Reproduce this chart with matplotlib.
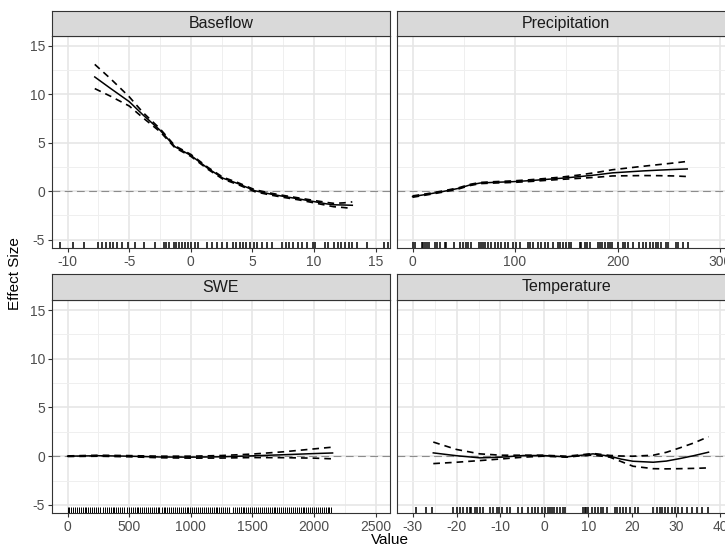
import numpy as np
import matplotlib
matplotlib.use("Agg")
import matplotlib.pyplot as plt
import matplotlib.transforms as mtransforms

plt.rcParams["font.family"] = ["Liberation Sans", "DejaVu Sans"]
plt.rcParams["axes.unicode_minus"] = False

# --------------------------------------------------
# Data
# --------------------------------------------------

panel_names = ["Baseflow", "Precipitation", "SWE", "Temperature"]

baseflow_x = [-7.8, -6.5, -5.0, -3.9, -2.5, -1.3, 0.0, 1.4, 2.6, 3.8, 5.2, 6.5, 7.6, 8.8, 10.0, 11.0, 11.6, 12.4, 13.1]
baseflow_fit = [11.8, 10.6, 9.25, 7.9, 6.3, 4.6, 3.7, 2.35, 1.35, 0.8, 0.05, -0.3, -0.55, -0.8, -1.07, -1.3, -1.4, -1.42, -1.45]
baseflow_hi = [13.1, 11.6, 9.75, 8.15, 6.45, 4.7, 3.8, 2.45, 1.45, 0.9, 0.15, -0.2, -0.45, -0.7, -0.95, -1.15, -1.25, -1.2, -1.1]
baseflow_lo = [10.6, 9.8, 8.8, 7.6, 6.15, 4.5, 3.6, 2.25, 1.25, 0.7, -0.05, -0.4, -0.65, -0.9, -1.2, -1.45, -1.6, -1.68, -1.78]
baseflow_rug = [-10.6, -9.6, -8.7, -7.5, -7.2, -6.9, -6.6, -6.3, -6.0, -5.6, -5.1, -4.5, -3.8,
                -2.9, -2.2, -2.0, -1.8, -1.4, -1.2, -1.0, -0.75, -0.5, -0.2, 0.0, 0.3, 0.6,
                1.3, 1.7, 2.1, 2.5, 2.9, 3.4, 3.7, 3.95, 4.25, 4.5, 4.8, 5.1, 5.4, 5.75,
                6.2, 6.6, 7.4, 7.7, 8.0, 8.3, 8.7, 9.0, 9.4, 9.9, 10.1, 10.9, 11.1, 11.6,
                11.9, 12.2, 12.5, 12.8, 13.1, 13.5, 14.3, 15.7, 16.0]

precip_x = [0, 15, 30, 45, 56, 66, 80, 98, 115, 130, 146, 162, 180, 195, 210, 225, 240, 255, 268]
precip_fit = [-0.55, -0.3, -0.02, 0.3, 0.65, 0.85, 0.92, 0.99, 1.1, 1.22, 1.35, 1.5, 1.7, 1.9, 2.0, 2.1, 2.18, 2.25, 2.3]
precip_hi = [-0.48, -0.24, 0.04, 0.36, 0.71, 0.91, 0.99, 1.07, 1.19, 1.32, 1.47, 1.67, 1.95, 2.22, 2.4, 2.58, 2.75, 2.92, 3.08]
precip_lo = [-0.62, -0.36, -0.08, 0.24, 0.59, 0.79, 0.85, 0.91, 1.01, 1.12, 1.23, 1.33, 1.45, 1.58, 1.6, 1.62, 1.61, 1.58, 1.52]
precip_rug = [0, 2.3, 8.8, 10.4, 12.1, 13.7, 16.3, 21.8, 23.4, 26.6, 31.5, 33.1, 40.6, 46.1,
              49.3, 52, 54.2, 57.4, 64.9, 66.5, 68.8, 71, 73.7, 76.9, 80.2, 83.4, 86.7, 89.9,
              93.2, 98.0, 101.3, 104.5, 112.6, 114.3, 117.5, 122.4, 125.6, 128.9, 132.1, 137.0,
              141.9, 144, 146.7, 150, 152.5, 154.8, 162.9, 164.6, 167.8, 170, 172.7, 180.8, 183,
              185, 187.3, 190.6, 192.2, 194.8, 200.3, 205.2, 207.5, 210.1, 215, 221.4, 224.7,
              227.9, 231.2, 234.4, 237.7, 239.3, 242.6, 247.4, 249.1, 257.2, 258.8, 263.7, 268.6]

swe_x = [0, 250, 500, 750, 1000, 1250, 1500, 1750, 2000, 2150]
swe_fit = [0.0, 0.05, 0.0, -0.08, -0.1, -0.06, 0.04, 0.15, 0.27, 0.33]
swe_hi = [0.03, 0.1, 0.06, 0.0, 0.0, 0.07, 0.22, 0.45, 0.75, 0.93]
swe_lo = [-0.03, 0.0, -0.06, -0.16, -0.2, -0.19, -0.14, -0.15, -0.2, -0.27]
swe_rug = [0, 14, 30, 45, 58, 75, 92, 105, 121, 138, 150, 168, 182, 197, 214, 230, 246, 262,
           290, 305, 318, 334, 350, 366, 380, 396, 412, 428, 441, 458, 480, 497, 512, 527,
           543, 560, 574, 590, 606, 621, 637, 652, 668, 683, 699, 716, 730, 745, 762, 778,
           793, 808, 825, 840, 856, 871, 886, 902, 918, 934, 950, 965, 980, 996, 1012, 1027,
           1043, 1058, 1074, 1090, 1105, 1121, 1136, 1152, 1168, 1184, 1200, 1215, 1231,
           1246, 1262, 1278, 1293, 1309, 1340, 1356, 1372, 1388, 1403, 1410, 1420, 1435,
           1450, 1466, 1482, 1497, 1514, 1530, 1545, 1561, 1577, 1592, 1608, 1624, 1640,
           1655, 1671, 1686, 1702, 1718, 1733, 1750, 1765, 1780, 1796, 1812, 1828, 1843,
           1858, 1874, 1890, 1906, 1921, 1937, 1952, 1968, 1984, 2000, 2015, 2031, 2047,
           2062, 2078, 2094, 2110, 2125, 2140]

temp_x = [-25.3, -20, -14.7, -9.8, -4.8, -0.3, 5.0, 8.5, 11.1, 14.9, 17.5, 20.2, 24.8, 27.8, 30.9, 34.0, 37.4]
temp_fit = [0.34, 0.05, -0.17, -0.1, 0.07, 0.07, -0.07, 0.1, 0.24, 0.0, -0.3, -0.52, -0.62, -0.5, -0.24, 0.05, 0.41]
temp_hi = [1.45, 0.69, 0.24, 0.1, 0.1, 0.1, 0.0, 0.15, 0.28, 0.08, 0.02, 0.0, 0.1, 0.4, 0.86, 1.35, 2.0]
temp_lo = [-0.76, -0.62, -0.45, -0.28, -0.1, 0.0, -0.1, 0.05, 0.12, -0.1, -0.55, -1.03, -1.28, -1.3, -1.28, -1.25, -1.2]
temp_rug = [-29.25, -27.0, -25.7, -20.75, -20.0, -19.2, -18.5, -17.7, -16.95, -16.6, -15.8,
            -15.4, -14.7, -13.9, -12.4, -11.6, -10.9, -10.3, -9.7, -8.6, -7.8, -5.9, -5.2,
            -3.7, -2.9, -2.1, -1.4, -0.6, 0.14, 0.9, 1.3, 1.66, 2.2, 2.8, 3.55, 4.2, 4.7,
            8.9, 9.2, 9.6, 10.0, 10.8, 11.5, 12.3, 12.8, 13.4, 14.2, 16.1, 16.6, 17.2, 18.0,
            18.7, 19.5, 20.6, 21.4, 24.8, 25.6, 26.3, 26.9, 27.5, 28.2, 29.0, 29.75, 30.5,
            31.3, 32.4, 33.6, 34.7, 35.8, 37.3]

y_ticks = [-5, 0, 5, 10, 15]

# --------------------------------------------------
# Panel settings
# --------------------------------------------------

panels = [
    dict(x=baseflow_x, fit=baseflow_fit, hi=baseflow_hi, lo=baseflow_lo, rug=baseflow_rug, rug_lw=1.1,
         xlim=(-11.27, 16.16), ticks=[-10, -5, 0, 5, 10, 15], minor=[-7.5, -2.5, 2.5, 7.5, 12.5]),
    dict(x=precip_x, fit=precip_fit, hi=precip_hi, lo=precip_lo, rug=precip_rug, rug_lw=1.1,
         xlim=(-14.9, 314.9), ticks=[0, 100, 200, 300], minor=[50, 150, 250]),
    dict(x=swe_x, fit=swe_fit, hi=swe_hi, lo=swe_lo, rug=swe_rug, rug_lw=0.7,
         xlim=(-127, 2616), ticks=[0, 500, 1000, 1500, 2000, 2500], minor=[250, 750, 1250, 1750, 2250]),
    dict(x=temp_x, fit=temp_fit, hi=temp_hi, lo=temp_lo, rug=temp_rug, rug_lw=1.1,
         xlim=(-33.5, 43.5), ticks=[-30, -20, -10, 0, 10, 20, 30, 40], minor=[-25, -15, -5, 5, 15, 25, 35]),
]

W, H = 725, 548
fig = plt.figure(figsize=(W / 100, H / 100), dpi=100)

# pixel boxes of the panels (right column runs past the edge, as in the reference)
lefts = [52, 397.3]
rows = [(36, 248, 11), (300, 513.3, 274)]
pw = 338

for i, p in enumerate(panels):
    row, col = divmod(i, 2)
    top, bot, stop = rows[row]
    left = lefts[col]
    ax = fig.add_axes([left / W, (H - bot) / H, pw / W, (bot - top) / H])
    ax.set_facecolor("white")

    ax.set_xlim(*p["xlim"])
    ax.set_ylim(-5.86, 16.03)
    ax.set_xticks(p["ticks"])
    ax.set_xticks(p["minor"], minor=True)
    ax.set_yticks(y_ticks)
    ax.set_yticks([-2.5, 2.5, 7.5, 12.5], minor=True)
    ax.grid(which="major", color="#E6E6E6", linewidth=1.2)
    ax.grid(which="minor", color="#EFEFEF", linewidth=0.7)
    ax.set_axisbelow(True)
    ax.tick_params(which="minor", length=0)
    ax.tick_params(which="major", length=3, width=0.8, color="#333333",
                   labelcolor="#4D4D4D", labelsize=10, pad=2)
    if col == 1:
        ax.tick_params(axis="y", which="major", length=0, labelleft=False)
    for s in ax.spines.values():
        s.set_color("#333333")
        s.set_linewidth(0.8)

    ax.axhline(0, color="#8C8C8C", linewidth=0.8, dashes=(7, 4))
    ax.plot(p["x"], p["fit"], color="black", linewidth=1.1)
    ax.plot(p["x"], p["hi"], color="black", linewidth=1.2, dashes=(4, 3))
    ax.plot(p["x"], p["lo"], color="black", linewidth=1.2, dashes=(4, 3))

    # rug along the bottom
    trans = mtransforms.blended_transform_factory(ax.transData, ax.transAxes)
    ax.vlines(p["rug"], 0, 0.028, transform=trans, color="black", linewidth=p["rug_lw"])

    # facet strip
    sax = fig.add_axes([left / W, (H - top) / H, pw / W, (top - stop) / H])
    sax.set_facecolor("#D9D9D9")
    sax.set_xticks([])
    sax.set_yticks([])
    for s in sax.spines.values():
        s.set_color("#333333")
        s.set_linewidth(0.8)
    sax.text(0.5, 0.5, panel_names[i], ha="center", va="center",
             fontsize=11.5, color="#1A1A1A", transform=sax.transAxes)

fig.text(15 / W, 1 - 274 / H, "Effect Size", rotation=90, ha="center", va="center", fontsize=11)
fig.text(390 / W, 1 - 540 / H, "Value", ha="center", va="center", fontsize=11)

fig.savefig("out.png", dpi=100)
